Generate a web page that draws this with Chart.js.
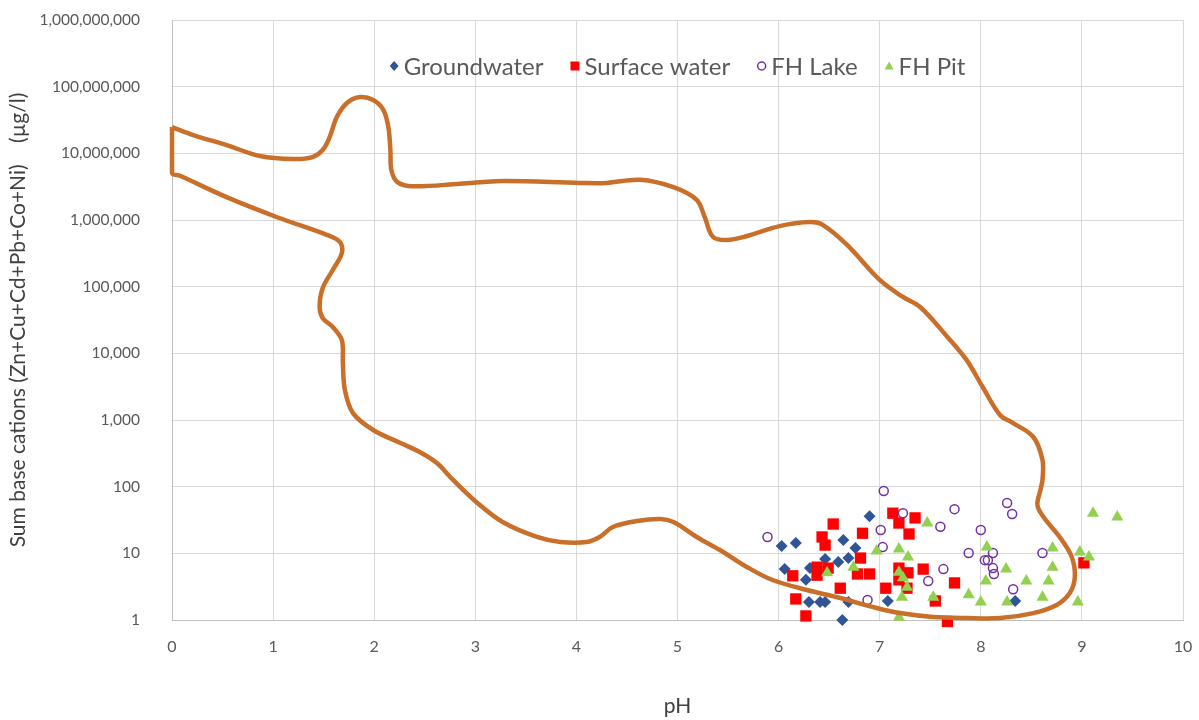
<!DOCTYPE html>
<html>
<head>
<meta charset="utf-8">
<script src="https://cdn.jsdelivr.net/npm/chart.js@4/dist/chart.umd.min.js"></script>
<style>
  html, body { margin: 0; padding: 0; background: #ffffff; }
  #wrap { width: 1199px; height: 720px; position: relative; }
</style>
</head>
<body>
<div id="wrap"><canvas id="chart"></canvas></div>
<script>
// Sample series: pH and summed base-metal cations (µg/l)
const seriesNames = ['Groundwater', 'Surface water', 'FH Lake', 'FH Pit'];

const groundwaterPH  = [6.90, 6.64, 6.76, 6.03, 6.17, 6.46, 6.59, 6.69, 6.06, 6.31, 6.27, 6.30, 6.41, 6.46, 6.69, 7.08, 6.63, 8.34];
const groundwaterSum = [36, 15.8, 12, 12.9, 14.3, 8.2, 7.4, 8.5, 5.8, 6.0, 4.0, 1.86, 1.86, 1.86, 1.86, 1.93, 1.0, 1.93];

const surfacePH  = [7.13, 6.54, 7.19, 7.35, 6.83, 6.43, 6.46, 7.29, 6.81, 6.38, 6.49, 6.38, 6.14, 6.78, 6.90, 7.19, 7.28, 7.43, 7.19, 7.27, 7.74, 6.61, 7.06, 6.17, 7.55, 6.27, 7.67, 9.02];
const surfaceSum = [40, 27.5, 28.5, 34, 20, 17.6, 13.3, 19.5, 8.5, 6.2, 6.0, 4.7, 4.6, 4.9, 4.9, 6.0, 5.1, 5.8, 4.0, 3.0, 3.6, 3.0, 3.0, 2.07, 1.93, 1.15, 0.95, 7.2];

const lakePH  = [7.04, 5.89, 7.23, 7.74, 7.60, 7.01, 7.03, 7.88, 7.63, 7.48, 6.88, 8.00, 8.26, 8.31, 8.12, 8.04, 8.07, 8.12, 8.13, 8.61, 8.32];
const lakeSum = [86, 17.6, 40, 46, 25, 22.4, 12.4, 10.1, 5.8, 3.85, 2.0, 22.4, 57, 39, 10.1, 7.9, 7.9, 6.0, 4.9, 10.1, 2.9];

const pitPH  = [7.47, 6.97, 7.19, 7.28, 6.74, 6.48, 7.19, 7.23, 7.27, 7.22, 7.53, 7.19, 7.88, 8.06, 8.71, 8.98, 9.07, 9.11, 9.35, 8.25, 8.71, 8.45, 8.67, 8.05, 8.00, 8.26, 8.61, 8.96];
const pitSum = [28.5, 10.8, 11.6, 8.8, 6.2, 5.1, 5.2, 4.3, 3.1, 2.2, 2.2, 1.1, 2.4, 12.4, 12, 10.5, 8.8, 40, 35, 5.8, 6.2, 3.85, 3.85, 3.85, 1.86, 1.86, 2.2, 1.86];

// Closed envelope of reported mine-water compositions
const outlinePH = [0, 0.21, 0.54, 0.87, 1.20, 1.39, 1.49, 1.56, 1.63, 1.73, 1.86, 1.99, 2.09, 2.14, 2.16, 2.17, 2.23, 2.38, 2.85, 3.27,
  4.04, 4.30, 4.63, 4.96, 5.19, 5.27, 5.35, 5.49, 5.69, 6.01, 6.31, 6.44, 6.68, 7.00, 7.23, 7.40, 7.67, 7.86, 8.02, 8.19,
  8.32, 8.52, 8.61, 8.61, 8.59, 8.56, 8.62, 8.78, 8.90, 8.93, 8.88, 8.75, 8.52, 8.19, 7.86, 7.53, 7.20, 6.93, 6.61, 6.28,
  5.94, 5.69, 5.42, 5.19, 4.96, 4.83, 4.60, 4.36, 4.23, 4.10, 3.84, 3.61, 3.27, 3.02, 2.78, 2.62, 2.45, 2.26, 1.99, 1.79,
  1.71, 1.69, 1.68, 1.59, 1.49, 1.46, 1.49, 1.59, 1.68, 1.66, 1.53, 1.04, 0.54, 0.08, 0, 0];
const outlineSum = [2.48e7, 1.88e7, 1.33e7, 9.1e6, 8.2e6, 8.8e6, 1.12e7, 1.76e7, 3.5e7, 5.7e7, 7.0e7, 6.3e7, 4.5e7, 2.48e7, 1.12e7, 5.6e6, 3.7e6, 3.2e6, 3.5e6, 3.85e6,
  3.6e6, 3.6e6, 4.0e6, 3.1e6, 2.0e6, 1.1e6, 5.6e5, 5.0e5, 5.75e5, 8.1e5, 9.3e5, 8.4e5, 4.2e5, 1.26e5, 7.0e4, 4.95e4, 1.76e4, 7.9e3, 3.1e3, 1190,
  900, 556, 251, 126, 89, 53, 35, 17.6, 8.8, 4.4, 2.54, 1.68, 1.27, 1.07, 1.07, 1.11, 1.27, 1.57, 2.14, 2.82,
  3.98, 6.2, 11.2, 17.6, 29.5, 32.7, 30.5, 24.8, 17.6, 14.8, 14.8, 17.6, 29.5, 57, 126, 226, 331, 452, 708, 1270,
  2820, 7160, 1.58e4, 2.48e4, 3.4e4, 4.95e4, 9.5e4, 1.78e5, 3.2e5, 4.7e5, 6.0e5, 1.1e6, 2.2e6, 4.6e6, 5.1e6, 2.48e7];

const yTickValues = [1, 10, 100, 1e3, 1e4, 1e5, 1e6, 1e7, 1e8, 1e9];
const xTickValues = [0, 1, 2, 3, 4, 5, 6, 7, 8, 9, 10];

const pairs = (xs, ys) => xs.map((x, i) => ({ x: x, y: ys[i] }));

const FONT = "Lato, 'Open Sans', 'Liberation Sans', sans-serif";
const GRID = '#d9d9d9';
const TEXT = '#595959';

// Single-row legend drawn inside the plot area, near its top
const insideLegend = {
  id: 'insideLegend',
  afterDraw(chart, args, opts) {
    const { ctx, chartArea } = chart;
    const items = chart.data.datasets.filter(d => seriesNames.includes(d.label))
      .sort((a, b) => seriesNames.indexOf(a.label) - seriesNames.indexOf(b.label));
    ctx.save();
    ctx.font = `${opts.fontSize}px ${FONT}`;
    ctx.textBaseline = 'middle';
    ctx.textAlign = 'left';
    const box = opts.box, textGap = opts.textGap, itemGap = opts.itemGap;
    const widths = items.map(d => box + textGap + ctx.measureText(d.label).width);
    const total = widths.reduce((s, w) => s + w, 0) + itemGap * (items.length - 1);
    let x = (chartArea.left + chartArea.right) / 2 - total / 2;
    const y = opts.y;
    items.forEach((d, i) => {
      const cx = x + box / 2;
      ctx.fillStyle = d.backgroundColor;
      ctx.strokeStyle = d.borderColor;
      ctx.lineWidth = d.borderWidth;
      const r = box / 2;
      ctx.beginPath();
      if (d.pointStyle === 'rectRot') {
        ctx.moveTo(cx, y - r - 0.5); ctx.lineTo(cx + r, y); ctx.lineTo(cx, y + r + 0.5); ctx.lineTo(cx - r, y);
        ctx.closePath(); ctx.fill();
      } else if (d.pointStyle === 'rect') {
        ctx.rect(cx - r, y - r, box, box); ctx.fill();
      } else if (d.pointStyle === 'circle') {
        ctx.arc(cx, y, r - 0.5, 0, Math.PI * 2); ctx.stroke();
      } else if (d.pointStyle === 'triangle') {
        ctx.moveTo(cx, y - r); ctx.lineTo(cx + r, y + r * 0.8); ctx.lineTo(cx - r, y + r * 0.8);
        ctx.closePath(); ctx.fill();
      }
      ctx.fillStyle = TEXT;
      ctx.fillText(d.label, x + box + textGap, y + 1);
      x += widths[i] + itemGap;
    });
    ctx.restore();
  }
};

new Chart(document.getElementById('chart'), {
  type: 'scatter',
  data: {
    datasets: [
      {
        label: 'envelope',
        data: pairs(outlinePH, outlineSum),
        showLine: true,
        borderColor: '#c96f2a',
        borderWidth: 4.5,
        pointRadius: 0,
        tension: 0.35,
        fill: false,
        clip: false,
        order: 0
      },
      {
        label: seriesNames[3],
        data: pairs(pitPH, pitSum),
        pointStyle: 'triangle',
        pointRadius: 7,
        backgroundColor: '#92d050',
        borderColor: '#92d050',
        borderWidth: 0,
        clip: false,
        order: 1
      },
      {
        label: seriesNames[2],
        data: pairs(lakePH, lakeSum),
        pointStyle: 'circle',
        pointRadius: 4.5,
        backgroundColor: 'rgba(255,255,255,0)',
        borderColor: '#7030a0',
        borderWidth: 1.5,
        clip: false,
        order: 2
      },
      {
        label: seriesNames[1],
        data: pairs(surfacePH, surfaceSum),
        pointStyle: 'rect',
        pointRadius: 8,
        backgroundColor: '#ff0000',
        borderColor: '#ff0000',
        borderWidth: 0,
        clip: false,
        order: 3
      },
      {
        label: seriesNames[0],
        data: pairs(groundwaterPH, groundwaterSum),
        pointStyle: 'rectRot',
        pointRadius: 6,
        backgroundColor: '#2f5597',
        borderColor: '#2f5597',
        borderWidth: 0,
        clip: false,
        order: 4
      }
    ]
  },
  options: {
    responsive: true,
    maintainAspectRatio: false,
    animation: false,
    events: [],
    layout: { padding: { left: 0, top: 20, right: 16, bottom: 0 } },
    scales: {
      x: {
        type: 'linear',
        min: 0,
        max: 10,
        afterBuildTicks: (scale) => { scale.ticks = xTickValues.map(v => ({ value: v })); },
        afterFit: (scale) => { scale.height = 100; scale.paddingLeft = 0; scale.paddingRight = 0; },
        grid: { color: GRID, lineWidth: 1, drawTicks: false },
        border: { color: '#bfbfbf', width: 1 },
        ticks: {
          color: TEXT,
          font: { family: FONT, size: 16 },
          padding: 17,
          maxRotation: 0
        },
        title: {
          display: true,
          text: 'pH',
          color: '#404040',
          font: { family: FONT, size: 21 },
          padding: { top: 0, bottom: 1 }
        }
      },
      y: {
        type: 'logarithmic',
        min: 1,
        max: 1e9,
        afterBuildTicks: (scale) => { scale.ticks = yTickValues.map(v => ({ value: v })); },
        afterFit: (scale) => { scale.width = 172; scale.paddingTop = 0; scale.paddingBottom = 0; },
        grid: { color: GRID, lineWidth: 1, drawTicks: false },
        border: { color: '#bfbfbf', width: 1 },
        ticks: {
          color: TEXT,
          font: { family: FONT, size: 15.5 },
          padding: 32,
          callback: (v) => Number(v).toLocaleString('en-US')
        },
        title: {
          display: true,
          text: 'Sum base cations (Zn+Cu+Cd+Pb+Co+Ni)    (µg/l)',
          color: '#404040',
          font: { family: FONT, size: 21 },
          padding: { top: 6, bottom: 0 }
        }
      }
    },
    plugins: {
      tooltip: { enabled: false },
      legend: { display: false },
      insideLegend: { y: 66, fontSize: 24, box: 9, textGap: 5, itemGap: 27 }
    }
  },
  plugins: [insideLegend]
});
</script>
</body>
</html>
